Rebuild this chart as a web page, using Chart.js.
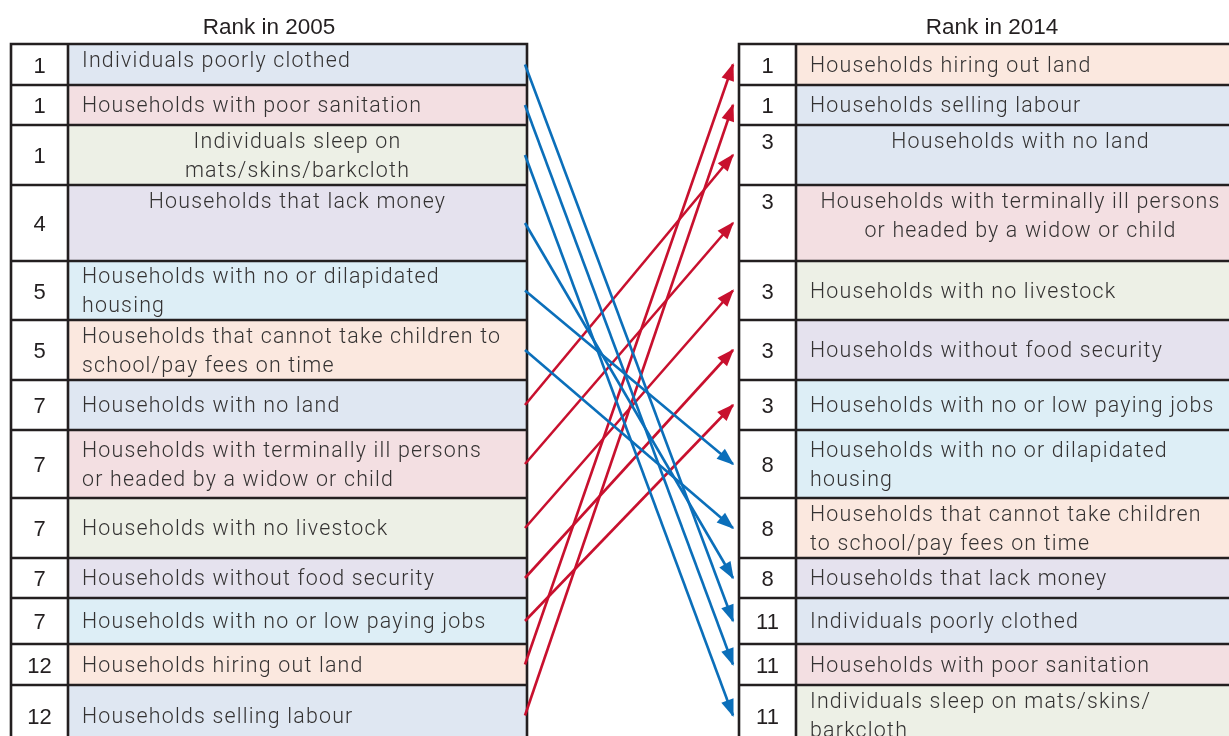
<!DOCTYPE html>
<html><head><meta charset="utf-8">
<script src="https://cdn.jsdelivr.net/npm/chart.js@4.4.1/dist/chart.umd.min.js"></script>
<style>html,body{margin:0;padding:0;background:#fff;overflow:hidden}canvas{display:block}</style>
</head><body><canvas id="c" width="1229" height="736"></canvas>
<script>
// ---------------- DATA ----------------
const titles = ['Rank in 2005', 'Rank in 2014'];

const items2005 = [
  'Individuals poorly clothed',
  'Households with poor sanitation',
  'Individuals sleep on\nmats/skins/barkcloth',
  'Households that lack money',
  'Households with no or dilapidated\nhousing',
  'Households that cannot take children to\nschool/pay fees on time',
  'Households with no land',
  'Households with terminally ill persons\nor headed by a widow or child',
  'Households with no livestock',
  'Households without food security',
  'Households with no or low paying jobs',
  'Households hiring out land',
  'Households selling labour'
];
const ranks2005 = [1, 1, 1, 4, 5, 5, 7, 7, 7, 7, 7, 12, 12];

const items2014 = [
  'Households hiring out land',
  'Households selling labour',
  'Households with no land',
  'Households with terminally ill persons\nor headed by a widow or child',
  'Households with no livestock',
  'Households without food security',
  'Households with no or low paying jobs',
  'Households with no or dilapidated\nhousing',
  'Households that cannot take children\nto school/pay fees on time',
  'Households that lack money',
  'Individuals poorly clothed',
  'Households with poor sanitation',
  'Individuals sleep on mats/skins/\nbarkcloth'
];
const ranks2014 = [1, 1, 3, 3, 3, 3, 3, 8, 8, 8, 11, 11, 11];

// ---------------- STYLE / LAYOUT ----------------
const fills2005 = ['#dfe7f2', '#f3dfe2', '#edf0e6', '#e5e2ee', '#ddeef6', '#fbe8df',
                   '#dfe7f2', '#f3dfe2', '#edf0e6', '#e5e2ee', '#ddeef6', '#fbe8df', '#dfe7f2'];
const ROW_H = [41, 40, 60, 76, 59, 60, 50, 68, 60, 40, 46, 41, 61];
const TABLE_TOP = 44;
const LEFT_T  = { x0: 11,  xd: 68,  x1: 527 };
const RIGHT_T = { x0: 739, xd: 796, x1: 1245 };
const ARROW_X0 = 525, ARROW_X1 = 733;
const TV_2005 = 'tmmtmmmmmmmmm', TH_2005 = 'llccllllllll' + 'l', RV_2005 = 'mmmmmmmmmmmmm';
const TV_2014 = 'mmttmmmmmmmmm', TH_2014 = 'llccllllllll' + 'l', RV_2014 = 'mmttmmmmmmmmm';
const LINE_GAP = 29, TEXT_NUDGE = 2;
const RED = '#c8102e', BLUE = '#0b6fba', INK = '#231f20', TXT = '#343232';
const LABEL_FONT = '300 21.4px Roboto, "Liberation Sans", sans-serif';
const LABEL_SPACING = '1.2px';
const RANK_FONT = '400 22px "Liberation Sans", sans-serif';
const TITLE_FONT = '400 22.5px "Liberation Sans", sans-serif';

const key = s => s.replace(/\s+/g, '');
const rowTop = i => TABLE_TOP + ROW_H.slice(0, i).reduce((a, b) => a + b, 0);
const rowMid = i => rowTop(i) + ROW_H[i] / 2;

// ---------------- ARROWS (datasets from data) ----------------
const keys2014 = items2014.map(key);
const datasets = items2005.map((it, i) => {
  const j = keys2014.indexOf(key(it));
  const up = ranks2014[j] < ranks2005[i];
  return {
    label: it.replace('\n', ' '),
    type: 'line',
    data: [{ x: ARROW_X0, y: rowMid(i) }, { x: ARROW_X1, y: rowMid(j) }],
    borderColor: up ? RED : BLUE,
    backgroundColor: up ? RED : BLUE,
    borderWidth: 2.6,
    pointRadius: 0,
    tension: 0,
    fill: false
  };
});

function drawTable(ctx, X, Y, T, items, ranks, fills, tv, th, rv, title) {
  const px = v => X.getPixelForValue(v), py = v => Y.getPixelForValue(v);
  const n = items.length;
  const bottom = rowTop(n);
  for (let i = 0; i < n; i++) {
    ctx.fillStyle = fills[i];
    ctx.fillRect(px(T.xd), py(rowTop(i)), px(T.x1) - px(T.xd), py(rowTop(i) + ROW_H[i]) - py(rowTop(i)));
    ctx.fillStyle = '#ffffff';
    ctx.fillRect(px(T.x0), py(rowTop(i)), px(T.xd) - px(T.x0), py(rowTop(i) + ROW_H[i]) - py(rowTop(i)));
  }
  ctx.strokeStyle = INK; ctx.lineWidth = 2.6;
  ctx.beginPath();
  ctx.rect(px(T.x0), py(TABLE_TOP), px(T.x1) - px(T.x0), py(bottom) - py(TABLE_TOP));
  ctx.moveTo(px(T.xd), py(TABLE_TOP)); ctx.lineTo(px(T.xd), py(bottom));
  for (let i = 1; i < n; i++) { ctx.moveTo(px(T.x0), py(rowTop(i))); ctx.lineTo(px(T.x1), py(rowTop(i))); }
  ctx.stroke();
  ctx.textBaseline = 'middle';
  for (let i = 0; i < n; i++) {
    const lines = items[i].split('\n');
    const first = (tv[i] === 't' ? rowTop(i) + 16 : rowMid(i) - (lines.length - 1) * LINE_GAP / 2) + TEXT_NUDGE;
    ctx.font = LABEL_FONT; ctx.fillStyle = TXT;
    if ('letterSpacing' in ctx) ctx.letterSpacing = LABEL_SPACING;
    lines.forEach((ln, k) => {
      if (th[i] === 'c') { ctx.textAlign = 'center'; ctx.fillText(ln, px((T.xd + T.x1) / 2), py(first + k * LINE_GAP)); }
      else { ctx.textAlign = 'left'; ctx.fillText(ln, px(T.xd + 14), py(first + k * LINE_GAP)); }
    });
    if ('letterSpacing' in ctx) ctx.letterSpacing = '0px';
    ctx.font = RANK_FONT; ctx.fillStyle = INK; ctx.textAlign = 'center';
    const ry = (rv[i] === 't' ? rowTop(i) + 16 : rowMid(i)) + TEXT_NUDGE;
    ctx.fillText(String(ranks[i]), px((T.x0 + T.xd) / 2), py(ry));
  }
  ctx.font = TITLE_FONT; ctx.fillStyle = INK; ctx.textAlign = 'center';
  ctx.fillText(title, px((T.x0 + T.x1) / 2), py(28));
}

const fills2014 = items2014.map(s => fills2005[items2005.map(key).indexOf(key(s))]);

const tablesPlugin = {
  id: 'tables',
  beforeDatasetsDraw(chart) {
    const { ctx, scales: { x, y } } = chart;
    ctx.save();
    drawTable(ctx, x, y, LEFT_T, items2005, ranks2005, fills2005, TV_2005, TH_2005, RV_2005, titles[0]);
    drawTable(ctx, x, y, RIGHT_T, items2014, ranks2014, fills2014, TV_2014, TH_2014, RV_2014, titles[1]);
    ctx.restore();
  }
};
const arrowHeadPlugin = {
  id: 'arrowheads',
  afterDatasetsDraw(chart) {
    const ctx = chart.ctx;
    chart.data.datasets.forEach((ds, d) => {
      const pts = chart.getDatasetMeta(d).data;
      const a = pts[0], b = pts[1];
      const ang = Math.atan2(b.y - a.y, b.x - a.x);
      const L = 16, W = 6.5;
      const bx = b.x - L * Math.cos(ang), by = b.y - L * Math.sin(ang);
      ctx.save();
      ctx.fillStyle = ds.borderColor;
      ctx.beginPath();
      ctx.moveTo(b.x + 1.5 * Math.cos(ang), b.y + 1.5 * Math.sin(ang));
      ctx.lineTo(bx - W * Math.sin(ang), by + W * Math.cos(ang));
      ctx.lineTo(bx + W * Math.sin(ang), by - W * Math.cos(ang));
      ctx.closePath();
      ctx.fill();
      ctx.restore();
    });
  }
};

new Chart(document.getElementById('c'), {
  type: 'scatter',
  data: { datasets },
  options: {
    responsive: false,
    animation: false,
    devicePixelRatio: 1,
    layout: { padding: 0 },
    plugins: { legend: { display: false }, tooltip: { enabled: false }, title: { display: false } },
    scales: {
      x: { type: 'linear', min: 0, max: 1229, display: false },
      y: { type: 'linear', min: 0, max: 736, reverse: true, display: false }
    }
  },
  plugins: [tablesPlugin, arrowHeadPlugin]
});
</script></body></html>
